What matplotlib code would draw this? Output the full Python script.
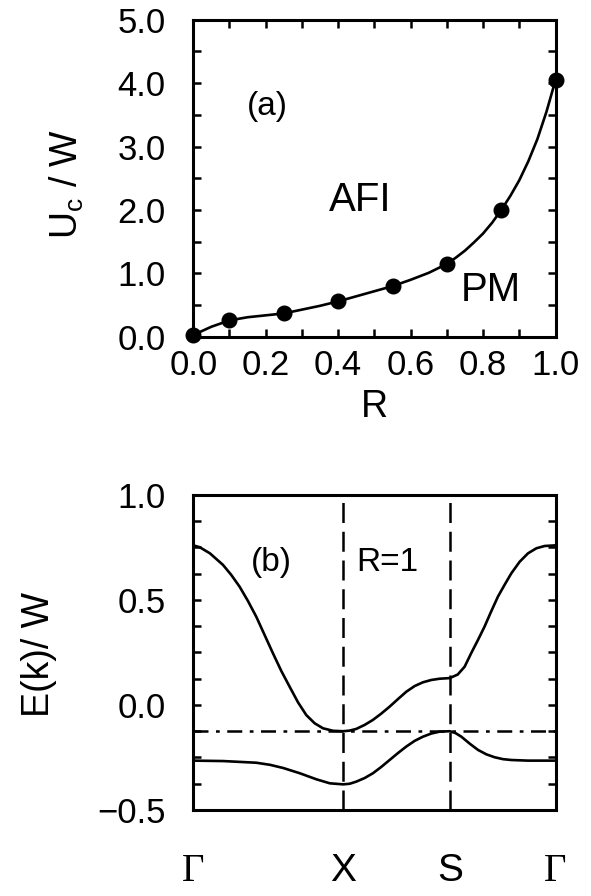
import matplotlib
matplotlib.use("Agg")
import matplotlib.pyplot as plt
from matplotlib.ticker import MultipleLocator, FuncFormatter

plt.rcParams['font.family'] = ['Liberation Sans', 'DejaVu Sans']
plt.rcParams['mathtext.fontset'] = 'custom'
plt.rcParams['mathtext.rm'] = 'Liberation Sans'
plt.rcParams['mathtext.it'] = 'Liberation Sans:italic'

# (a) critical U vs R
R_pts = [0.0, 0.1, 0.25, 0.4, 0.55, 0.7, 0.85, 1.0]
Uc_pts = [0.03, 0.26, 0.37, 0.56, 0.80, 1.15, 2.0, 4.05]
R_curve = [0.0, 0.05, 0.1, 0.15, 0.2, 0.25, 0.3, 0.35, 0.4, 0.45, 0.5, 0.55, 0.6,
           0.65, 0.7, 0.725, 0.75, 0.775, 0.8, 0.825, 0.85, 0.875, 0.9, 0.925, 0.95,
           0.975, 1.0]
Uc_curve = [0.03, 0.16, 0.26, 0.31, 0.34, 0.37, 0.43, 0.49, 0.56, 0.64, 0.72, 0.80, 0.90,
            1.01, 1.15, 1.25, 1.36, 1.49, 1.63, 1.80, 2.0, 2.22, 2.47, 2.77, 3.12,
            3.55, 4.05]

# (b) bands along Gamma-X-S-Gamma, R=1
k_ticks = [0.0, 0.414, 0.708, 1.0]
k_labels = ['Γ', 'X', 'S', 'Γ']
k_up = [0.0, 0.018, 0.046, 0.082, 0.105, 0.128, 0.151, 0.174, 0.197, 0.22, 0.243, 0.266,
        0.289, 0.312, 0.335, 0.358, 0.386, 0.414, 0.432, 0.450, 0.473, 0.496, 0.519,
        0.542, 0.565, 0.588, 0.611, 0.634, 0.657, 0.680, 0.708, 0.730, 0.749, 0.767,
        0.786, 0.804, 0.822, 0.841, 0.859, 0.878, 0.901, 0.924, 0.947, 0.970, 1.0]
E_up = [0.76, 0.751, 0.722, 0.667, 0.619, 0.563, 0.495, 0.420, 0.333, 0.246, 0.162, 0.087,
        0.013, -0.048, -0.087, -0.111, -0.123, -0.125, -0.122, -0.114, -0.095, -0.071,
        -0.041, -0.008, 0.028, 0.063, 0.090, 0.108, 0.119, 0.125, 0.128, 0.145, 0.182,
        0.246, 0.310, 0.373, 0.444, 0.516, 0.571, 0.627, 0.682, 0.722, 0.746, 0.757, 0.76]
k_lo = [0.0, 0.082, 0.174, 0.212, 0.248, 0.294, 0.340, 0.377, 0.414, 0.432, 0.450, 0.473,
        0.496, 0.519, 0.542, 0.565, 0.588, 0.611, 0.634, 0.657, 0.680, 0.708, 0.724,
        0.740, 0.763, 0.786, 0.809, 0.832, 0.855, 0.878, 0.924, 1.0]
E_lo = [-0.265, -0.267, -0.275, -0.285, -0.300, -0.325, -0.354, -0.373, -0.378, -0.375,
        -0.365, -0.348, -0.325, -0.295, -0.262, -0.229, -0.198, -0.171, -0.151, -0.136,
        -0.127, -0.125, -0.134, -0.151, -0.184, -0.214, -0.235, -0.249, -0.258, -0.262,
        -0.265, -0.265]
E_ref = -0.125

minus_fmt = FuncFormatter(lambda v, p: ('%.1f' % v).replace('-', '\u2212'))

fig = plt.figure(figsize=(5.91, 8.96), dpi=100)
ax1 = fig.add_axes([0.327, 0.624, 0.613, 0.354])
ax2 = fig.add_axes([0.327, 0.096, 0.613, 0.3516])

for ax in (ax1, ax2):
    for s in ax.spines.values():
        s.set_linewidth(2.2)
    ax.tick_params(which='both', direction='in', width=1.8, length=6,
                   labelsize=25, top=True, right=True)

# panel (a)
ax1.plot(R_curve, Uc_curve, color='black', lw=1.9, clip_on=False)
ax1.plot(R_pts, Uc_pts, 'o', color='black', ms=10.5, clip_on=False, zorder=5)
ax1.set_xlim(0, 1)
ax1.set_ylim(0, 5)
ax1.xaxis.set_major_locator(MultipleLocator(0.2))
ax1.xaxis.set_minor_locator(MultipleLocator(0.1))
ax1.yaxis.set_major_locator(MultipleLocator(1.0))
ax1.yaxis.set_minor_locator(MultipleLocator(0.5))
ax1.xaxis.set_major_formatter(minus_fmt)
ax1.yaxis.set_major_formatter(minus_fmt)
ax1.tick_params(axis='x', pad=9)
ax1.tick_params(axis='y', pad=20)
ax1.set_xlabel('R', fontsize=27, labelpad=5)
ax1.text(0.204, 3.63, '(a)', fontsize=24, ha='center', va='center')
ax1.text(0.461, 2.16, 'AFI', fontsize=29, ha='center', va='center')
ax1.text(0.82, 0.74, 'PM', fontsize=29, ha='center', va='center')
fig.text(0.113, 0.795, r'U$_{\rm c}$ / W', fontsize=27, rotation=90, ha='center', va='center')

# panel (b)
ax2.plot(k_up, E_up, color='black', lw=1.9)
ax2.plot(k_lo, E_lo, color='black', lw=1.9)
ax2.axhline(E_ref, color='black', lw=1.8, ls=(0, (6, 3, 1.5, 3)))
for k in k_ticks[1:3]:
    ax2.axvline(k, color='black', lw=1.8, ls=(0, (8, 3.5)))
ax2.set_xlim(0, 1)
ax2.set_ylim(-0.5, 1.0)
ax2.yaxis.set_major_locator(MultipleLocator(0.5))
ax2.yaxis.set_minor_locator(MultipleLocator(0.125))
ax2.yaxis.set_major_formatter(minus_fmt)
ax2.set_xticks(k_ticks)
ax2.set_xticklabels(k_labels)
ax2.tick_params(axis='x', which='both', length=0, top=False, pad=31, labelsize=28)
ax2.tick_params(axis='y', pad=20)
for lab in ax2.get_xticklabels():
    if lab.get_text() == 'Γ':
        lab.set_fontfamily('Liberation Serif')
ax2.text(0.216, 0.68, '(b)', fontsize=24, ha='center', va='center')
ax2.text(0.537, 0.68, 'R=1', fontsize=24, ha='center', va='center')
fig.text(0.066, 0.269, 'E(k)/ W', fontsize=27, rotation=90, ha='center', va='center')

fig.savefig('out.png', dpi=100)
